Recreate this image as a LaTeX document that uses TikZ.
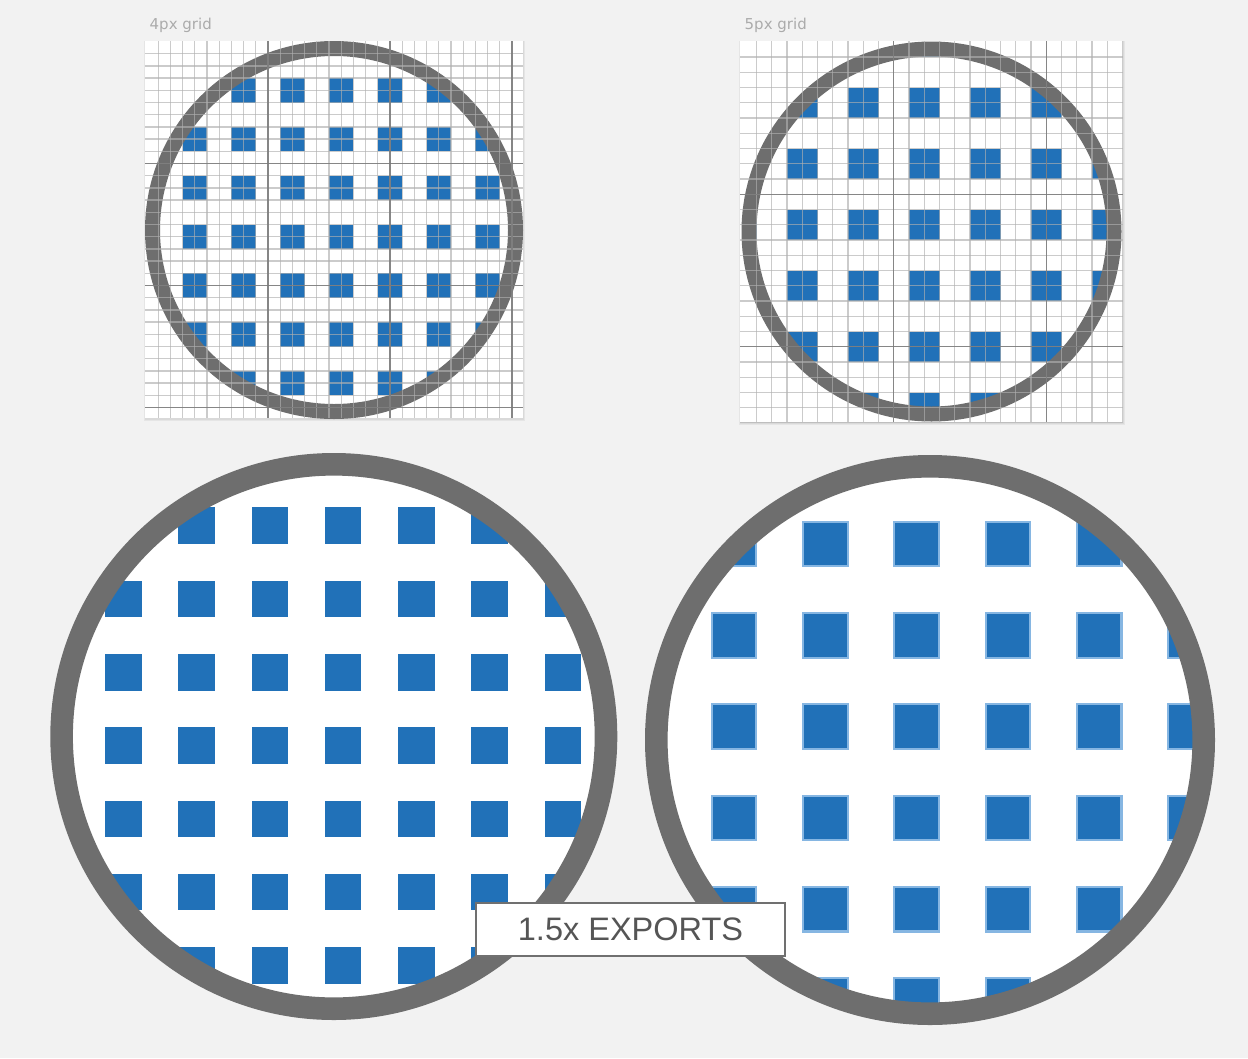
\documentclass[tikz,border=0pt]{standalone}
\usepackage{fontspec}
\newfontfamily\labfont{DejaVu Sans}
\newfontfamily\expfont{Liberation Sans}
\definecolor{bg}{HTML}{F2F2F2}
\definecolor{ringc}{HTML}{6E6E6E}
\definecolor{sq}{HTML}{2171B8}
\definecolor{sqedge}{HTML}{86B6E2}
\definecolor{gridl}{HTML}{B0B0B0}
\definecolor{gridd}{HTML}{7A7A7A}
\definecolor{labc}{HTML}{ABABAB}
\definecolor{expc}{HTML}{555555}
\definecolor{boxc}{HTML}{707070}
\tikzset{
  panel/.style={fill=white},
  shadowbox/.style={fill=black, opacity=0.05},
  ringline/.style={draw=ringc},
  sqfill/.style={fill=sq},
  sqsoft/.style={fill=sq, draw=sqedge, line width=2.2},
  gridlight/.style={draw=gridl, line width=1.3, opacity=0.65},
  griddark/.style={draw=gridd, line width=1.2, opacity=0.85},
  gridtitle/.style={font=\labfont\fontsize{15}{18}\selectfont, text=labc, anchor=base west, inner sep=0},
  exportbox/.style={draw=boxc, line width=2.4, fill=white, minimum width=309, minimum height=53, inner sep=0,
     font=\expfont\fontsize{32.5}{38}\selectfont, text=expc}
}
\begin{document}
\begin{tikzpicture}[x=1pt,y=-1pt]
\fill[bg] (0,0) rectangle (1248,1058);
\useasboundingbox (0,0) rectangle (1248,1058);

% ---------- titles
\node[gridtitle] (t4) at (149.5,29) {4px grid};
\node[gridtitle] (t5) at (744.5,29) {5px grid};

% ---------- top-left panel (4px grid)
\fill[shadowbox] (144,41) rectangle (525,420.5);
\fill[shadowbox] (144.5,41) rectangle (524,419.5);
\fill[panel] (145,41) rectangle (523,418);
\begin{scope}
  \clip (334,230) circle (181);
  \foreach \i in {0,...,7} {
    \foreach \j in {0,...,7} {
      \fill[sqfill] ({146+48.8*\i-12.2},{41.5+48.8*\j-12.2}) rectangle +(24.4,24.4);
    }
  }
\end{scope}
\draw[ringline, line width=15] (334,230) circle (181.5);
\begin{scope}
  \clip (145,41) rectangle (523,418);
  \foreach \k in {1,...,30} {
    \draw[gridlight] ({146+12.2*\k},41) -- ({146+12.2*\k},418);
    \draw[gridlight] (145,{41.5+12.2*\k}) -- (523,{41.5+12.2*\k});
  }
  \foreach \k in {10,20,30} {
    \draw[griddark] ({146+12.2*\k},41) -- ({146+12.2*\k},418);
    \draw[griddark] (145,{41.5+12.2*\k}) -- (523,{41.5+12.2*\k});
  }
\end{scope}

% ---------- top-right panel (5px grid)
\fill[shadowbox] (739,41) rectangle (1125,424.5);
\fill[shadowbox] (739.5,41) rectangle (1124,423.5);
\fill[panel] (740,41) rectangle (1123,422);
\begin{scope}
  \clip (931.5,231.5) circle (182.5);
  \foreach \i in {0,...,6} {
    \foreach \j in {0,...,6} {
      \fill[sqfill] ({741.3+61*\i-15.25},{41.8+61*\j-15.25}) rectangle +(30.5,30.5);
    }
  }
\end{scope}
\draw[ringline, line width=15] (931.5,231.5) circle (182.5);
\begin{scope}
  \clip (740,41) rectangle (1123,422);
  \foreach \k in {1,...,25} {
    \draw[gridlight] ({741.3+15.25*\k},41) -- ({741.3+15.25*\k},422);
    \draw[gridlight] (740,{41.8+15.25*\k}) -- (1123,{41.8+15.25*\k});
  }
  \foreach \k in {10,20} {
    \draw[griddark] ({741.3+15.25*\k},41) -- ({741.3+15.25*\k},422);
    \draw[griddark] (740,{41.8+15.25*\k}) -- (1123,{41.8+15.25*\k});
  }
\end{scope}

% ---------- bottom-left magnified (1.5x of 4px)
\fill[white] (333.8,736.5) circle (272.2);
\begin{scope}
  \clip (333.8,736.5) circle (272.2);
  \foreach \i in {-1,...,7} {
    \foreach \j in {-1,...,7} {
      \fill[sqfill] ({123.4+73.25*\i-18.3},{525.6+73.3*\j-18.3}) rectangle +(36.6,36.6);
    }
  }
\end{scope}
\draw[ringline, line width=22.6] (333.8,736.5) circle (272.2);

% ---------- bottom-right magnified (1.5x of 5px)
\fill[white] (930,740) circle (273.7);
\begin{scope}
  \clip (930,740) circle (273.7);
  \foreach \i in {-1,...,6} {
    \foreach \j in {-1,...,6} {
      \draw[sqsoft] ({734+91.3*\i-22.3},{544+91.3*\j-22.3}) rectangle +(44.6,44.6);
    }
  }
\end{scope}
\draw[ringline, line width=22.6] (930,740) circle (273.7);

% ---------- label
\node[exportbox] (exp) at (630.5,929.5) {1.5x EXPORTS};
\end{tikzpicture}
\end{document}
